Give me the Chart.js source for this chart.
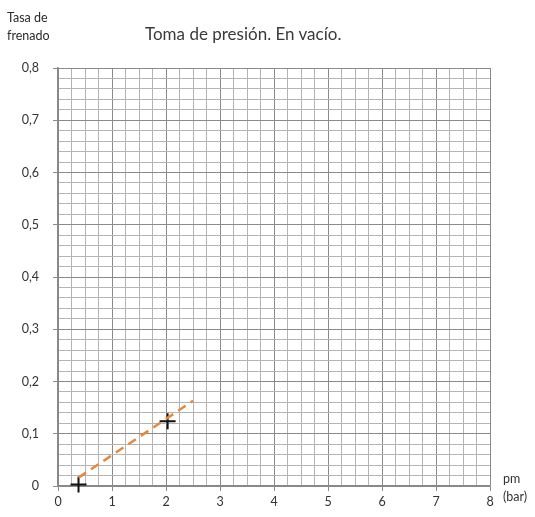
<!DOCTYPE html>
<html><head><meta charset="utf-8">
<script src="https://cdn.jsdelivr.net/npm/chart.js@4.4.0/dist/chart.umd.min.js"></script>
<style>
html,body{margin:0;padding:0;background:#fff;}
#wrap{position:relative;width:535px;height:517px;}
canvas{position:absolute;left:0;top:0;}
.lbl{position:absolute;font-family:Lato,"Open Sans",sans-serif;color:#333;white-space:nowrap;}
</style></head>
<body>
<div id="wrap">
<canvas id="c" width="535" height="517"></canvas>
<div class="lbl" style="left:145px;top:23px;font-size:17px;color:#3a3a3a;">Toma de presión. En vacío.</div>
<div class="lbl" style="left:7px;top:9px;font-size:12.5px;line-height:18px;color:#2a2a2a;">Tasa de<br>frenado</div>
<div class="lbl" style="left:503px;top:470px;font-size:12.5px;line-height:18px;">pm<br>(bar)</div>
</div>
<script>
const xRange = [0, 8];
const yRange = [0, 0.8];
const measuredPoints = [{x: 0.38, y: 0.003}, {x: 2.03, y: 0.124}];
const trendLine = [{x: 0.38, y: 0.016}, {x: 2.5, y: 0.163}];

const isMajorY = v => Math.abs(Math.round(v * 10) - v * 10) < 1e-6;
const isMajorX = v => Math.abs(Math.round(v) - v) < 1e-6;

new Chart(document.getElementById('c'), {
  type: 'scatter',
  data: {
    datasets: [
      {
        data: trendLine, showLine: true, borderColor: '#e8873a', borderWidth: 2.5,
        borderDash: [9, 6], pointRadius: 0, fill: false, clip: false
      },
      {
        data: measuredPoints, pointStyle: 'cross', pointRadius: 8, pointBorderColor: '#111',
        pointBorderWidth: 2, showLine: false, clip: false
      }
    ]
  },
  options: {
    responsive: false, animation: false,
    layout: {padding: {left: 0, right: 45, top: 68, bottom: 0}},
    plugins: {legend: {display: false}, tooltip: {enabled: false}, title: {display: false}},
    scales: {
      x: {
        type: 'linear', min: xRange[0], max: xRange[1],
        afterFit: s => { s.height = 31; },
        afterBuildTicks: s => { const t = []; for (let i = 0; i <= 32; i++) t.push({value: i * 0.25}); s.ticks = t; },
        ticks: {
          autoSkip: false, maxRotation: 0, padding: 3, color: '#333',
          font: {family: 'Lato, "Open Sans", sans-serif', size: 12.5},
          callback: v => isMajorX(v) ? String(Math.round(v)) : ''
        },
        grid: {
          color: c => isMajorX(c.tick.value) ? '#8a8a8a' : '#b4b4b4',
          lineWidth: 1, tickLength: 5,
          tickColor: c => isMajorX(c.tick.value) ? '#8a8a8a' : 'rgba(0,0,0,0)'
        },
        border: {color: '#888', width: 1.5}
      },
      y: {
        type: 'linear', min: yRange[0], max: yRange[1],
        afterFit: s => { s.width = 58; },
        afterBuildTicks: s => { const t = []; for (let i = 0; i <= 40; i++) t.push({value: i * 0.02}); s.ticks = t; },
        ticks: {
          autoSkip: false, padding: 14, color: '#333',
          font: {family: 'Lato, "Open Sans", sans-serif', size: 12.5},
          callback: v => isMajorY(v) ? (Math.round(v * 10) / 10).toString().replace('.', ',') : ''
        },
        grid: {
          color: c => isMajorY(c.tick.value) ? '#8a8a8a' : '#b4b4b4',
          lineWidth: 1, tickLength: 5,
          tickColor: c => isMajorY(c.tick.value) ? '#8a8a8a' : 'rgba(0,0,0,0)'
        },
        border: {color: '#888', width: 1.5}
      }
    }
  }
});
</script>
</body></html>
